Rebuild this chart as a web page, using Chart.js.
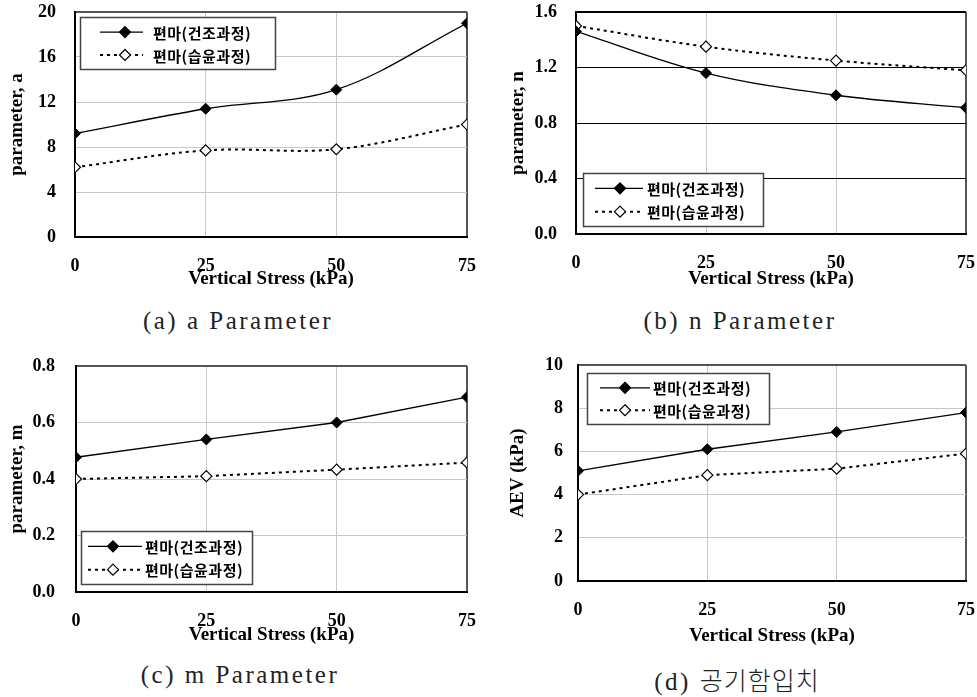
<!DOCTYPE html>
<html>
<head>
<meta charset="utf-8">
<script src="https://cdn.jsdelivr.net/npm/chart.js@4/dist/chart.umd.min.js"></script>
<style>
  html, body { margin: 0; padding: 0; background: #fff; }
  body { width: 977px; height: 697px; position: relative; overflow: hidden; }
  .panel { position: absolute; }
  .caption {
    position: absolute; width: 300px; text-align: center;
    font-family: "Liberation Serif", "Noto Sans CJK KR", serif;
    font-size: 25px; color: #222; letter-spacing: 2.5px; white-space: nowrap;
  }
</style>
</head>
<body>
<div class="panel" style="left:0;top:0;width:490px;height:290px"><canvas id="chartA"></canvas></div>
<div class="panel" style="left:490px;top:0;width:487px;height:290px"><canvas id="chartB"></canvas></div>
<div class="panel" style="left:0;top:340px;width:490px;height:310px"><canvas id="chartC"></canvas></div>
<div class="panel" style="left:490px;top:340px;width:487px;height:310px"><canvas id="chartD"></canvas></div>
<div class="caption" style="left:88px;top:307px">(a) a Parameter</div>
<div class="caption" style="left:590px;top:307px">(b) n Parameter</div>
<div class="caption" style="left:90px;top:661px">(c) m Parameter</div>
<div class="caption" style="left:587px;top:661px">(d) <span style="font-family:'Noto Sans CJK KR';font-weight:300;letter-spacing:1px">공기함입치</span></div>
<script>
  // data
  const stressKPa = [0, 25, 50, 75];
  const legendLabels = ['편마(건조과정)', '편마(습윤과정)'];
  const xTitle = 'Vertical Stress (kPa)';

  const aDry = [9.2, 11.4, 13.1, 19.0];
  const aWet = [6.2, 7.7, 7.8, 10.0];
  const nDry = [1.46, 1.16, 1.0, 0.91];
  const nWet = [1.5, 1.35, 1.25, 1.18];
  const mDry = [0.477, 0.54, 0.60, 0.69];
  const mWet = [0.40, 0.41, 0.433, 0.458];
  const aevDry = [5.1, 6.1, 6.9, 7.8];
  const aevWet = [4.0, 4.9, 5.2, 5.9];

  const yTicksA = [0, 4, 8, 12, 16, 20];
  const yTicksN = [0, 0.4, 0.8, 1.2, 1.6];
  const yTicksM = [0, 0.2, 0.4, 0.6, 0.8];
  const yTicksAev = [0, 2, 4, 6, 8, 10];

  const serifFamily = '"Liberation Serif", "Times New Roman", serif';
  const tickFont = { family: serifFamily, weight: 'bold', size: 18 };
  const titleFont = { family: serifFamily, weight: 'bold', size: 19 };

  function pts(ys) {
    return stressKPa.map(function (x, i) { return { x: x, y: ys[i] }; });
  }

  // legend box drawn inside the plot, Excel style
  const boxLegend = {
    id: 'boxLegend',
    afterDatasetsDraw: function (chart, args, opts) {
      const ctx = chart.ctx;
      const b = opts.box;
      ctx.save();
      ctx.fillStyle = '#fff';
      ctx.fillRect(b.x, b.y, b.w, b.h);
      ctx.strokeStyle = '#444';
      ctx.lineWidth = 1.5;
      ctx.strokeRect(b.x + 0.5, b.y + 0.5, b.w, b.h);
      chart.data.datasets.forEach(function (ds, i) {
        const cy = b.y + b.h * (i === 0 ? 0.29 : 0.73);
        const x0 = b.x + b.l0, x1 = b.x + b.l1, mx = b.x + b.mk;
        ctx.strokeStyle = '#000';
        ctx.lineWidth = ds.borderWidth;
        ctx.setLineDash(ds.borderDash || []);
        ctx.beginPath();
        ctx.moveTo(x0, cy);
        ctx.lineTo(x1, cy);
        ctx.stroke();
        ctx.setLineDash([]);
        const r = 5.5;
        ctx.beginPath();
        ctx.moveTo(mx, cy - r); ctx.lineTo(mx + r, cy); ctx.lineTo(mx, cy + r); ctx.lineTo(mx - r, cy); ctx.closePath();
        ctx.fillStyle = ds.pointBackgroundColor;
        ctx.fill();
        ctx.lineWidth = 1.2;
        ctx.stroke();
        ctx.fillStyle = '#000';
        ctx.font = 'bold 15px "Noto Sans CJK KR", sans-serif';
        ctx.letterSpacing = '0.5px';
        ctx.textBaseline = 'middle';
        ctx.fillText(ds.label, b.x + b.tx, cy + 1);
      });
      ctx.restore();
    }
  };

  function makePanel(id, p) {
    const el = document.getElementById(id);
    const yMax = p.yTicks[p.yTicks.length - 1];
    return new Chart(el.getContext('2d'), {
      type: 'line',
      data: {
        datasets: [{
          label: legendLabels[0],
          data: pts(p.dry),
          borderColor: '#000',
          borderWidth: 1.3,
          tension: p.tension,
          pointStyle: 'rectRot',
          pointRadius: 5.5,
          pointBackgroundColor: '#000',
          pointBorderColor: '#000',
          pointBorderWidth: 1
        }, {
          label: legendLabels[1],
          data: pts(p.wet),
          borderColor: '#000',
          borderWidth: 2,
          borderDash: [3, 4],
          tension: p.tension,
          pointStyle: 'rectRot',
          pointRadius: 5.5,
          pointBackgroundColor: '#fff',
          pointBorderColor: '#000',
          pointBorderWidth: 1.2
        }]
      },
      options: {
        responsive: true,
        maintainAspectRatio: false,
        animation: false,
        layout: { padding: { left: 0, right: p.w - p.right, top: p.top, bottom: 0 } },
        scales: {
          x: {
            type: 'linear',
            min: 0, max: 75,
            afterBuildTicks: function (s) { s.ticks = stressKPa.map(function (v) { return { value: v }; }); },
            afterFit: function (s) { s.height = p.h - p.bottom; },
            grid: {
              drawTicks: true,
              tickLength: 19,
              tickColor: 'rgba(0,0,0,0)',
              color: function (c) { return c.tick && c.tick.value === 75 ? '#555' : '#c8c8c8'; },
              lineWidth: function (c) { return c.tick && c.tick.value === 75 ? 2 : 1; }
            },
            border: { color: '#000', width: 2 },
            ticks: { padding: 0, color: '#000', font: tickFont, maxRotation: 0 },
            title: { display: true, text: xTitle, color: '#000', font: titleFont, padding: { top: 0, bottom: p.xtPad } }
          },
          y: {
            min: p.yTicks[0], max: yMax,
            afterBuildTicks: function (s) { s.ticks = p.yTicks.map(function (v) { return { value: v }; }); },
            afterFit: function (s) { s.width = p.left; },
            grid: {
              drawTicks: true,
              tickLength: p.ytLen,
              tickColor: 'rgba(0,0,0,0)',
              color: function (c) {
                if (c.tick && c.tick.value === yMax) return p.darkH ? '#000' : '#555';
                return p.darkH ? '#000' : '#c8c8c8';
              },
              lineWidth: function (c) { return c.tick && c.tick.value === yMax ? 2 : 1; }
            },
            border: { color: '#000', width: 2 },
            ticks: {
              padding: 0, color: '#000', font: tickFont,
              callback: function (v) { return v.toFixed(p.dec); }
            },
            title: { display: true, text: p.yTitle, color: '#000', font: titleFont, padding: { top: p.ytitlePad, bottom: 0 } }
          }
        },
        plugins: {
          legend: { display: false },
          tooltip: { enabled: false },
          boxLegend: { box: p.legend }
        }
      },
      plugins: [boxLegend]
    });
  }

  makePanel('chartA', {
    dry: aDry, wet: aWet, yTicks: yTicksA, dec: 0, yTitle: 'parameter, a', tension: 0.35, darkH: false,
    w: 490, h: 290, left: 75, right: 467, top: 12, bottom: 237, ytLen: 19, ytitlePad: 6, xtPad: 0,
    legend: { x: 80, y: 17, w: 195, h: 52, l0: 20, l1: 63, mk: 45, tx: 73 }
  });
  makePanel('chartB', {
    dry: nDry, wet: nWet, yTicks: yTicksN, dec: 1, yTitle: 'parameter, n', tension: 0.35, darkH: true,
    w: 487, h: 290, left: 86, right: 476, top: 12, bottom: 234, ytLen: 19, ytitlePad: 17, xtPad: 0,
    legend: { x: 93, y: 173, w: 180, h: 53, l0: 12, l1: 60, mk: 37, tx: 64 }
  });
  makePanel('chartC', {
    dry: mDry, wet: mWet, yTicks: yTicksM, dec: 1, yTitle: 'parameter, m', tension: 0, darkH: false,
    w: 490, h: 310, left: 76, right: 467, top: 26, bottom: 252, ytLen: 21, ytitlePad: 6, xtPad: 4,
    legend: { x: 81, y: 191, w: 171, h: 53, l0: 7, l1: 61, mk: 32, tx: 64 }
  });
  makePanel('chartD', {
    dry: aevDry, wet: aevWet, yTicks: yTicksAev, dec: 0, yTitle: 'AEV (kPa)', tension: 0, darkH: false,
    w: 487, h: 310, left: 88, right: 476, top: 25, bottom: 241, ytLen: 15, ytitlePad: 17, xtPad: 3,
    legend: { x: 97, y: 33, w: 182, h: 51, l0: 13, l1: 63, mk: 38, tx: 66 }
  });
</script>
</body>
</html>
